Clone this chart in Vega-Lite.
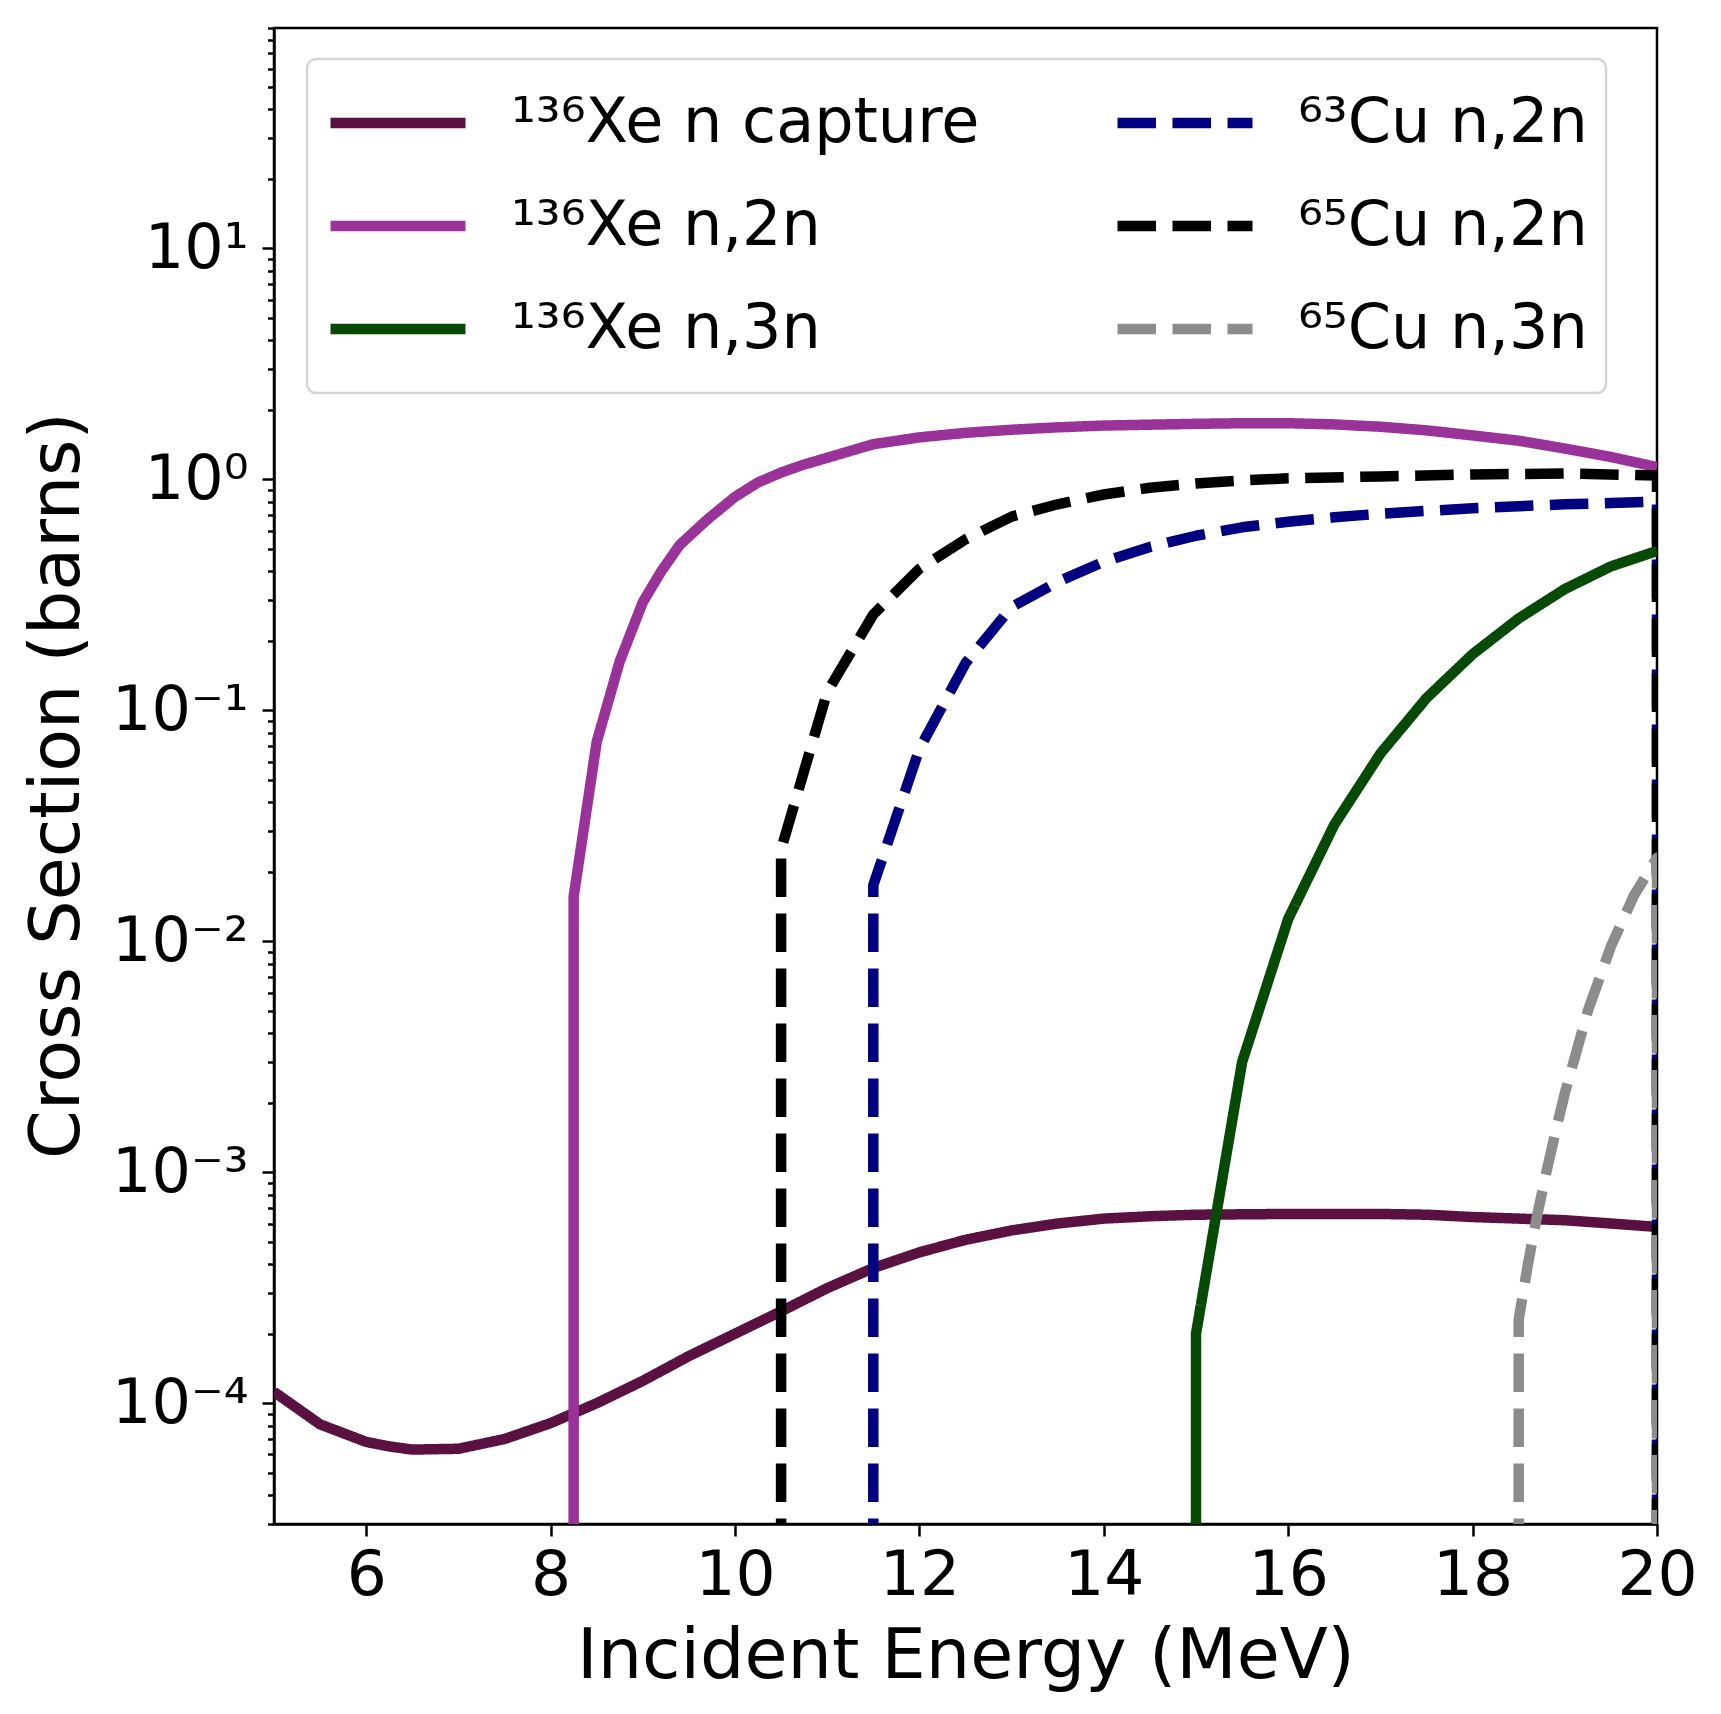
{
  "$schema": "https://vega.github.io/schema/vega-lite/v6.json",
  "autosize": {"type": "none"},
  "width": 1383,
  "height": 1496,
  "padding": {"left": 274, "top": 28, "right": 64, "bottom": 190},
  "background": "white",
  "config": {
    "view": {"stroke": "black", "strokeWidth": 2.5},
    "font": "DejaVu Sans",
    "axis": {
      "grid": false,
      "domainColor": "black",
      "domainWidth": 2.5,
      "tickColor": "black",
      "tickWidth": 2.5,
      "labelColor": "black",
      "titleColor": "black",
      "labelFont": "DejaVu Sans",
      "titleFont": "DejaVu Sans",
      "titleFontWeight": "normal",
      "labelOverlap": false,
      "labelFlush": false
    },
    "legend": {
      "orient": "none",
      "legendX": 33,
      "legendY": 31,
      "columns": 2,
      "symbolType": "stroke",
      "symbolSize": 18225,
      "symbolStrokeWidth": 10.5,
      "labelFont": "DejaVu Sans",
      "labelFontSize": 62,
      "labelColor": "black",
      "labelLimit": 0,
      "labelOffset": 40,
      "clipHeight": 92,
      "rowPadding": 11,
      "columnPadding": 132,
      "fillColor": "white",
      "strokeColor": "#d5d5d5",
      "strokeWidth": 2.5,
      "cornerRadius": 9,
      "padding": 18
    }
  },
  "data": {
    "values": [
      {"series": "¹³⁶Xe n capture", "i": 1, "energy": 5, "xs": 0.000112},
      {"series": "¹³⁶Xe n capture", "i": 2, "energy": 5.5, "xs": 0.000081},
      {"series": "¹³⁶Xe n capture", "i": 3, "energy": 6, "xs": 0.000068},
      {"series": "¹³⁶Xe n capture", "i": 4, "energy": 6.25, "xs": 0.000065},
      {"series": "¹³⁶Xe n capture", "i": 5, "energy": 6.5, "xs": 0.000063},
      {"series": "¹³⁶Xe n capture", "i": 6, "energy": 7, "xs": 0.0000635},
      {"series": "¹³⁶Xe n capture", "i": 7, "energy": 7.5, "xs": 0.00007},
      {"series": "¹³⁶Xe n capture", "i": 8, "energy": 8, "xs": 0.000082},
      {"series": "¹³⁶Xe n capture", "i": 9, "energy": 8.5, "xs": 0.0001},
      {"series": "¹³⁶Xe n capture", "i": 10, "energy": 9, "xs": 0.000125},
      {"series": "¹³⁶Xe n capture", "i": 11, "energy": 9.5, "xs": 0.00016},
      {"series": "¹³⁶Xe n capture", "i": 12, "energy": 10, "xs": 0.0002},
      {"series": "¹³⁶Xe n capture", "i": 13, "energy": 10.5, "xs": 0.00025},
      {"series": "¹³⁶Xe n capture", "i": 14, "energy": 11, "xs": 0.000315},
      {"series": "¹³⁶Xe n capture", "i": 15, "energy": 11.5, "xs": 0.000385},
      {"series": "¹³⁶Xe n capture", "i": 16, "energy": 12, "xs": 0.00045},
      {"series": "¹³⁶Xe n capture", "i": 17, "energy": 12.5, "xs": 0.00051},
      {"series": "¹³⁶Xe n capture", "i": 18, "energy": 13, "xs": 0.00056},
      {"series": "¹³⁶Xe n capture", "i": 19, "energy": 13.5, "xs": 0.0006},
      {"series": "¹³⁶Xe n capture", "i": 20, "energy": 14, "xs": 0.00063},
      {"series": "¹³⁶Xe n capture", "i": 21, "energy": 14.5, "xs": 0.000645},
      {"series": "¹³⁶Xe n capture", "i": 22, "energy": 15, "xs": 0.000655},
      {"series": "¹³⁶Xe n capture", "i": 23, "energy": 16, "xs": 0.00066},
      {"series": "¹³⁶Xe n capture", "i": 24, "energy": 17, "xs": 0.00066},
      {"series": "¹³⁶Xe n capture", "i": 25, "energy": 17.5, "xs": 0.000655},
      {"series": "¹³⁶Xe n capture", "i": 26, "energy": 18, "xs": 0.00064},
      {"series": "¹³⁶Xe n capture", "i": 27, "energy": 18.5, "xs": 0.00063},
      {"series": "¹³⁶Xe n capture", "i": 28, "energy": 19, "xs": 0.00062},
      {"series": "¹³⁶Xe n capture", "i": 29, "energy": 19.5, "xs": 0.0006},
      {"series": "¹³⁶Xe n capture", "i": 30, "energy": 20, "xs": 0.00058},

      {"series": "¹³⁶Xe n,2n", "i": 31, "energy": 8.25, "xs": 1e-8},
      {"series": "¹³⁶Xe n,2n", "i": 32, "energy": 8.25, "xs": 0.0156},
      {"series": "¹³⁶Xe n,2n", "i": 33, "energy": 8.5, "xs": 0.073},
      {"series": "¹³⁶Xe n,2n", "i": 34, "energy": 8.75, "xs": 0.163},
      {"series": "¹³⁶Xe n,2n", "i": 35, "energy": 9, "xs": 0.294},
      {"series": "¹³⁶Xe n,2n", "i": 36, "energy": 9.2, "xs": 0.4},
      {"series": "¹³⁶Xe n,2n", "i": 37, "energy": 9.4, "xs": 0.52},
      {"series": "¹³⁶Xe n,2n", "i": 38, "energy": 9.7, "xs": 0.67},
      {"series": "¹³⁶Xe n,2n", "i": 39, "energy": 10, "xs": 0.84},
      {"series": "¹³⁶Xe n,2n", "i": 40, "energy": 10.25, "xs": 0.97},
      {"series": "¹³⁶Xe n,2n", "i": 41, "energy": 10.5, "xs": 1.07},
      {"series": "¹³⁶Xe n,2n", "i": 42, "energy": 10.75, "xs": 1.16},
      {"series": "¹³⁶Xe n,2n", "i": 43, "energy": 11, "xs": 1.24},
      {"series": "¹³⁶Xe n,2n", "i": 44, "energy": 11.5, "xs": 1.42},
      {"series": "¹³⁶Xe n,2n", "i": 45, "energy": 12, "xs": 1.52},
      {"series": "¹³⁶Xe n,2n", "i": 46, "energy": 12.5, "xs": 1.59},
      {"series": "¹³⁶Xe n,2n", "i": 47, "energy": 13, "xs": 1.64},
      {"series": "¹³⁶Xe n,2n", "i": 48, "energy": 13.5, "xs": 1.68},
      {"series": "¹³⁶Xe n,2n", "i": 49, "energy": 14, "xs": 1.71},
      {"series": "¹³⁶Xe n,2n", "i": 50, "energy": 15, "xs": 1.74},
      {"series": "¹³⁶Xe n,2n", "i": 51, "energy": 15.5, "xs": 1.75},
      {"series": "¹³⁶Xe n,2n", "i": 52, "energy": 16, "xs": 1.75},
      {"series": "¹³⁶Xe n,2n", "i": 53, "energy": 16.5, "xs": 1.73},
      {"series": "¹³⁶Xe n,2n", "i": 54, "energy": 17, "xs": 1.69},
      {"series": "¹³⁶Xe n,2n", "i": 55, "energy": 17.5, "xs": 1.63},
      {"series": "¹³⁶Xe n,2n", "i": 56, "energy": 18, "xs": 1.55},
      {"series": "¹³⁶Xe n,2n", "i": 57, "energy": 18.5, "xs": 1.47},
      {"series": "¹³⁶Xe n,2n", "i": 58, "energy": 19, "xs": 1.36},
      {"series": "¹³⁶Xe n,2n", "i": 59, "energy": 19.5, "xs": 1.25},
      {"series": "¹³⁶Xe n,2n", "i": 60, "energy": 20, "xs": 1.13},

      {"series": "¹³⁶Xe n,3n", "i": 61, "energy": 15, "xs": 1e-8},
      {"series": "¹³⁶Xe n,3n", "i": 62, "energy": 15, "xs": 0.0002},
      {"series": "¹³⁶Xe n,3n", "i": 63, "energy": 15.5, "xs": 0.003},
      {"series": "¹³⁶Xe n,3n", "i": 64, "energy": 16, "xs": 0.0125},
      {"series": "¹³⁶Xe n,3n", "i": 65, "energy": 16.5, "xs": 0.032},
      {"series": "¹³⁶Xe n,3n", "i": 66, "energy": 17, "xs": 0.065},
      {"series": "¹³⁶Xe n,3n", "i": 67, "energy": 17.5, "xs": 0.113},
      {"series": "¹³⁶Xe n,3n", "i": 68, "energy": 18, "xs": 0.175},
      {"series": "¹³⁶Xe n,3n", "i": 69, "energy": 18.5, "xs": 0.25},
      {"series": "¹³⁶Xe n,3n", "i": 70, "energy": 19, "xs": 0.335},
      {"series": "¹³⁶Xe n,3n", "i": 71, "energy": 19.5, "xs": 0.42},
      {"series": "¹³⁶Xe n,3n", "i": 72, "energy": 20, "xs": 0.49},

      {"series": "⁶³Cu n,2n", "i": 73, "energy": 11.5, "xs": 1e-8},
      {"series": "⁶³Cu n,2n", "i": 74, "energy": 11.5, "xs": 0.0175},
      {"series": "⁶³Cu n,2n", "i": 75, "energy": 12, "xs": 0.068},
      {"series": "⁶³Cu n,2n", "i": 76, "energy": 12.5, "xs": 0.16},
      {"series": "⁶³Cu n,2n", "i": 77, "energy": 13, "xs": 0.28},
      {"series": "⁶³Cu n,2n", "i": 78, "energy": 13.5, "xs": 0.36},
      {"series": "⁶³Cu n,2n", "i": 79, "energy": 14, "xs": 0.44},
      {"series": "⁶³Cu n,2n", "i": 80, "energy": 14.5, "xs": 0.51},
      {"series": "⁶³Cu n,2n", "i": 81, "energy": 15, "xs": 0.57},
      {"series": "⁶³Cu n,2n", "i": 82, "energy": 15.5, "xs": 0.62},
      {"series": "⁶³Cu n,2n", "i": 83, "energy": 16, "xs": 0.655},
      {"series": "⁶³Cu n,2n", "i": 84, "energy": 16.5, "xs": 0.685},
      {"series": "⁶³Cu n,2n", "i": 85, "energy": 17, "xs": 0.71},
      {"series": "⁶³Cu n,2n", "i": 86, "energy": 17.5, "xs": 0.73},
      {"series": "⁶³Cu n,2n", "i": 87, "energy": 18, "xs": 0.75},
      {"series": "⁶³Cu n,2n", "i": 88, "energy": 18.5, "xs": 0.765},
      {"series": "⁶³Cu n,2n", "i": 89, "energy": 19, "xs": 0.78},
      {"series": "⁶³Cu n,2n", "i": 90, "energy": 19.5, "xs": 0.79},
      {"series": "⁶³Cu n,2n", "i": 91, "energy": 20, "xs": 0.8},
      {"series": "⁶³Cu n,2n", "i": 92, "energy": 20, "xs": 1e-8},

      {"series": "⁶⁵Cu n,2n", "i": 93, "energy": 10.5, "xs": 1e-8},
      {"series": "⁶⁵Cu n,2n", "i": 94, "energy": 10.5, "xs": 0.025},
      {"series": "⁶⁵Cu n,2n", "i": 95, "energy": 11, "xs": 0.12},
      {"series": "⁶⁵Cu n,2n", "i": 96, "energy": 11.5, "xs": 0.26},
      {"series": "⁶⁵Cu n,2n", "i": 97, "energy": 12, "xs": 0.41},
      {"series": "⁶⁵Cu n,2n", "i": 98, "energy": 12.5, "xs": 0.55},
      {"series": "⁶⁵Cu n,2n", "i": 99, "energy": 13, "xs": 0.69},
      {"series": "⁶⁵Cu n,2n", "i": 100, "energy": 13.5, "xs": 0.78},
      {"series": "⁶⁵Cu n,2n", "i": 101, "energy": 14, "xs": 0.86},
      {"series": "⁶⁵Cu n,2n", "i": 102, "energy": 14.5, "xs": 0.92},
      {"series": "⁶⁵Cu n,2n", "i": 103, "energy": 15, "xs": 0.96},
      {"series": "⁶⁵Cu n,2n", "i": 104, "energy": 15.5, "xs": 0.99},
      {"series": "⁶⁵Cu n,2n", "i": 105, "energy": 16, "xs": 1.01},
      {"series": "⁶⁵Cu n,2n", "i": 106, "energy": 17, "xs": 1.03},
      {"series": "⁶⁵Cu n,2n", "i": 107, "energy": 18, "xs": 1.05},
      {"series": "⁶⁵Cu n,2n", "i": 108, "energy": 19, "xs": 1.06},
      {"series": "⁶⁵Cu n,2n", "i": 109, "energy": 20, "xs": 1.04},
      {"series": "⁶⁵Cu n,2n", "i": 110, "energy": 20, "xs": 1e-8},

      {"series": "⁶⁵Cu n,3n", "i": 111, "energy": 18.5, "xs": 1e-8},
      {"series": "⁶⁵Cu n,3n", "i": 112, "energy": 18.5, "xs": 0.00023},
      {"series": "⁶⁵Cu n,3n", "i": 113, "energy": 18.6, "xs": 0.0004},
      {"series": "⁶⁵Cu n,3n", "i": 114, "energy": 18.7, "xs": 0.00065},
      {"series": "⁶⁵Cu n,3n", "i": 115, "energy": 18.8, "xs": 0.001},
      {"series": "⁶⁵Cu n,3n", "i": 116, "energy": 18.9, "xs": 0.0015},
      {"series": "⁶⁵Cu n,3n", "i": 117, "energy": 19, "xs": 0.0022},
      {"series": "⁶⁵Cu n,3n", "i": 118, "energy": 19.25, "xs": 0.005},
      {"series": "⁶⁵Cu n,3n", "i": 119, "energy": 19.5, "xs": 0.0095},
      {"series": "⁶⁵Cu n,3n", "i": 120, "energy": 19.75, "xs": 0.0158},
      {"series": "⁶⁵Cu n,3n", "i": 121, "energy": 20, "xs": 0.023},
      {"series": "⁶⁵Cu n,3n", "i": 122, "energy": 20, "xs": 1e-8}
    ]
  },
  "mark": {"type": "line", "strokeWidth": 10.5, "clip": true, "strokeJoin": "round", "strokeCap": "butt"},
  "encoding": {
    "x": {
      "field": "energy",
      "type": "quantitative",
      "scale": {"domain": [5, 20], "nice": false, "zero": false},
      "axis": {
        "title": "Incident Energy (MeV)",
        "values": [6, 8, 10, 12, 14, 16, 18, 20],
        "format": "d",
        "labelFontSize": 63,
        "tickSize": 12,
        "labelPadding": 8,
        "titleFontSize": 70,
        "titleBaseline": "alphabetic",
        "titleY": 153
      }
    },
    "y": {
      "field": "xs",
      "type": "quantitative",
      "scale": {"type": "log", "domain": [0.00003, 90], "nice": false},
      "axis": {
        "title": "Cross Section (barns)",
        "values": [0.00003, 0.00004, 0.00005, 0.00006, 0.00007, 0.00008, 0.00009,
                   0.0001, 0.0002, 0.0003, 0.0004, 0.0005, 0.0006, 0.0007, 0.0008, 0.0009,
                   0.001, 0.002, 0.003, 0.004, 0.005, 0.006, 0.007, 0.008, 0.009,
                   0.01, 0.02, 0.03, 0.04, 0.05, 0.06, 0.07, 0.08, 0.09,
                   0.1, 0.2, 0.3, 0.4, 0.5, 0.6, 0.7, 0.8, 0.9,
                   1, 2, 3, 4, 5, 6, 7, 8, 9,
                   10, 20, 30, 40, 50, 60, 70, 80, 90],
        "labelExpr": "abs(log(datum.value)/LN10 - round(log(datum.value)/LN10)) < 0.001 ? ['10⁻⁵','10⁻⁴','10⁻³','10⁻²','10⁻¹','10⁰','10¹'][round(log(datum.value)/LN10) + 5] : ''",
        "tickSize": {"condition": {"test": "abs(log(datum.value)/LN10 - round(log(datum.value)/LN10)) < 0.001", "value": 12}, "value": 6.5},
        "labelFontSize": 62,
        "labelPadding": 14,
        "titleFontSize": 70,
        "titleAngle": -90,
        "titleBaseline": "alphabetic",
        "titleAlign": "center",
        "titleX": -196,
        "titleY": 757
      }
    },
    "color": {
      "field": "series",
      "type": "nominal",
      "title": null,
      "scale": {
        "domain": ["¹³⁶Xe n capture", "¹³⁶Xe n,2n", "¹³⁶Xe n,3n", "⁶³Cu n,2n", "⁶⁵Cu n,2n", "⁶⁵Cu n,3n"],
        "range": ["#5b1042", "#993399", "#064a06", "#000080", "#000000", "#8c8c8c"]
      }
    },
    "strokeDash": {
      "field": "series",
      "type": "nominal",
      "title": null,
      "scale": {
        "domain": ["¹³⁶Xe n capture", "¹³⁶Xe n,2n", "¹³⁶Xe n,3n", "⁶³Cu n,2n", "⁶⁵Cu n,2n", "⁶⁵Cu n,3n"],
        "range": [[1, 0], [1, 0], [1, 0], [38.5, 16.5], [38.5, 16.5], [38.5, 16.5]]
      }
    },
    "order": {"field": "i", "type": "quantitative"}
  }
}
